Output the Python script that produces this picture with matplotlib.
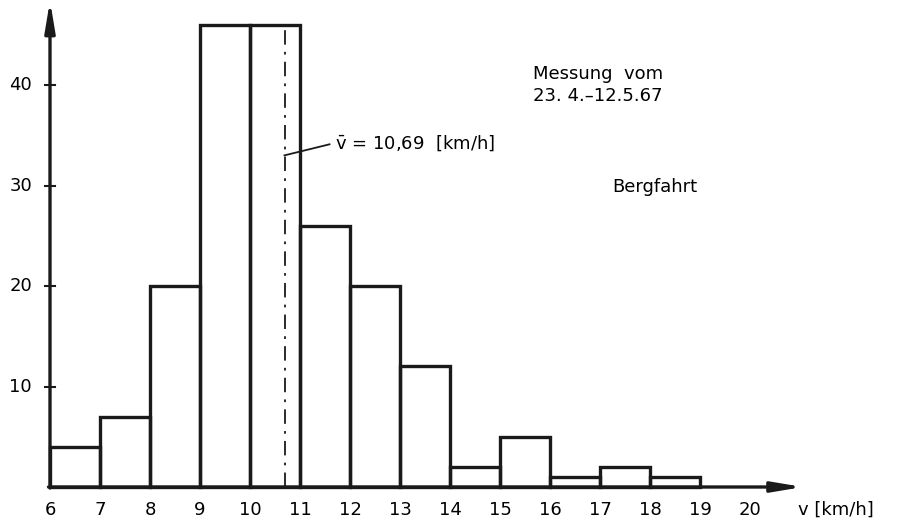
import matplotlib.pyplot as plt

# Klassen (km/h) und Häufigkeiten
kanten = [6, 7, 8, 9, 10, 11, 12, 13, 14, 15, 16, 17, 18, 19]
anzahl = [4, 7, 20, 46, 46, 26, 20, 12, 2, 5, 1, 2, 1]
x_ticks = [6, 7, 8, 9, 10, 11, 12, 13, 14, 15, 16, 17, 18, 19, 20]
y_ticks = [10, 20, 30, 40]
v_mittel = 10.69

plt.rcParams['font.family'] = ['DejaVu Sans']

fig = plt.figure(figsize=(9.05, 5.27), dpi=100)
ax = fig.add_axes([0, 0, 1, 1])
ax.set_xlim(5, 23.1)
ax.set_ylim(-3.98, 48.46)
ax.axis('off')

# Säulen
ax.bar(kanten[:-1], anzahl, width=1, align='edge', fill=False,
       edgecolor='#1a1a1a', linewidth=2.4, zorder=3)

# Achsen mit Pfeilen
ax.annotate('', xy=(21.06, 0), xytext=(5.97, 0),
            arrowprops=dict(arrowstyle='-|>,head_length=1.8,head_width=0.3',
                            color='#1a1a1a', lw=2.4, shrinkA=0, shrinkB=0))
ax.annotate('', xy=(6, 48.4), xytext=(6, -0.1),
            arrowprops=dict(arrowstyle='-|>,head_length=1.8,head_width=0.3',
                            color='#1a1a1a', lw=2.4, shrinkA=0, shrinkB=0))

# Skalenstriche und Beschriftung
for yt in y_ticks:
    ax.plot([5.9, 6.1], [yt, yt], color='#1a1a1a', lw=1.5)
    ax.text(5.64, yt, str(yt), ha='right', va='center', fontsize=13)
for xt in x_ticks:
    ax.text(xt, -2.3, str(xt), ha='center', va='center', fontsize=13)
ax.text(20.96, -2.3, 'v [km/h]', ha='left', va='center', fontsize=13)

# Mittelwert
ax.plot([v_mittel, v_mittel], [0, 46], color='#1a1a1a', lw=1.3,
        linestyle=(0, (8, 4, 1.5, 4)), zorder=4)
ax.plot([v_mittel, v_mittel + 0.9], [33.0, 34.1], color='#1a1a1a', lw=1.3)
ax.text(v_mittel + 1.0, 34.2, r'$\bar{\mathrm{v}}$ = 10,69  [km/h]',
        ha='left', va='center', fontsize=13)

ax.text(15.66, 40.0, 'Messung  vom\n23. 4.–12.5.67', ha='left', va='center',
        fontsize=13, linespacing=1.35)
ax.text(17.24, 29.9, 'Bergfahrt', ha='left', va='center', fontsize=13)

fig.savefig('out.png', dpi=100)
